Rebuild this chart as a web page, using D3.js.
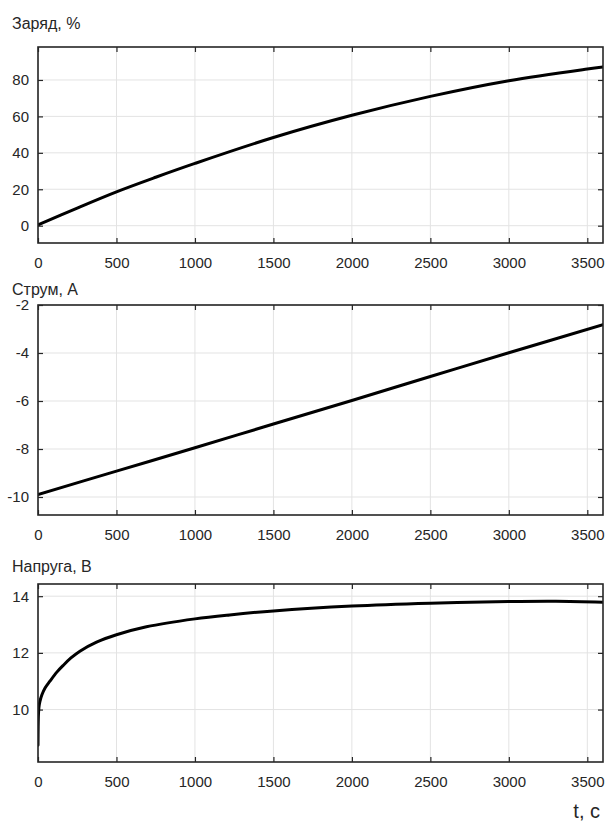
<!DOCTYPE html>
<html>
<head>
<meta charset="utf-8">
<script src="https://cdn.jsdelivr.net/npm/d3@7"></script>
<style>
  html, body { margin: 0; padding: 0; background: #fff; }
  text { font-family: "Liberation Sans", Arial, Helvetica, sans-serif; fill: #262626; }
</style>
</head>
<body>
<svg id="chart" width="607" height="825"></svg>
<script>
// ---- data ----
const xTicks = [0, 500, 1000, 1500, 2000, 2500, 3000, 3500];

const chargeTime = [0, 250, 500, 750, 1000, 1500, 2000, 2500, 3000, 3500, 3600];
const chargeValues = [0.4, 9.7, 18.6, 26.6, 34.2, 48.4, 60.6, 71.0, 79.6, 86.0, 87.1];
const chargeTicks = [0, 20, 40, 60, 80];

const currentTime = [0, 500, 1000, 1500, 2000, 2500, 3000, 3600];
const currentValues = [-9.9, -8.92, -7.95, -6.96, -5.98, -4.98, -3.99, -2.82];
const currentTicks = [-10, -8, -6, -4, -2];

const voltageTime = [0, 1, 3, 6, 12, 25, 45, 76, 120, 161, 210, 267, 373, 500, 691, 1000, 1221, 1500, 2000, 2500, 3000, 3300, 3600];
const voltageValues = [8.74, 9.4, 9.85, 10.08, 10.28, 10.52, 10.76, 11.0, 11.32, 11.56, 11.82, 12.06, 12.38, 12.64, 12.92, 13.2, 13.34, 13.48, 13.65, 13.75, 13.81, 13.82, 13.79];
const voltageTicks = [10, 12, 14];

const titles = ["Заряд, %", "Струм, А", "Напруга, В"];
const xLabel = "t, c";

// ---- layout ----
const svg = d3.select("#chart");
const left = 38, right = 603;
const panels = [
  { title: titles[0], t: chargeTime, v: chargeValues, ticks: chargeTicks, top: 47, bottom: 243, domain: [-9.5, 98.1], titleY: 29 },
  { title: titles[1], t: currentTime, v: currentValues, ticks: currentTicks, top: 305, bottom: 515, domain: [-10.75, -2], titleY: 295 },
  { title: titles[2], t: voltageTime, v: voltageValues, ticks: voltageTicks, top: 584, bottom: 762, domain: [8.15, 14.43], titleY: 572 }
];

const x = d3.scaleLinear().domain([0, 3600]).range([left, right]);
const frameColor = "#262626";
const gridColor = "#e3e3e3";
const fmt = d => String(d); // plain hyphen minus, as in the reference

panels.forEach(p => {
  const y = d3.scaleLinear().domain(p.domain).range([p.bottom, p.top]);
  const g = svg.append("g");

  // grid
  g.append("g").selectAll("line").data(xTicks).join("line")
    .attr("x1", d => x(d)).attr("x2", d => x(d))
    .attr("y1", p.top).attr("y2", p.bottom)
    .attr("stroke", gridColor).attr("stroke-width", 1);
  g.append("g").selectAll("line").data(p.ticks).join("line")
    .attr("x1", left).attr("x2", right)
    .attr("y1", d => y(d)).attr("y2", d => y(d))
    .attr("stroke", gridColor).attr("stroke-width", 1);

  // axes (ticks inside)
  const xb = d3.axisBottom(x).tickValues(xTicks).tickSizeInner(-5).tickSizeOuter(0).tickPadding(14).tickFormat(fmt);
  const xt = d3.axisTop(x).tickValues(xTicks).tickSizeInner(-5).tickSizeOuter(0).tickFormat("");
  const yl = d3.axisLeft(y).tickValues(p.ticks).tickSizeInner(-5).tickSizeOuter(0).tickPadding(9).tickFormat(fmt);
  const yr = d3.axisRight(y).tickValues(p.ticks).tickSizeInner(-5).tickSizeOuter(0).tickFormat("");

  const styleAxis = sel => {
    sel.select(".domain").remove();
    sel.selectAll(".tick line").attr("stroke", frameColor).attr("stroke-width", 1.2);
    sel.selectAll(".tick text").attr("font-size", 15).attr("fill", "#262626")
      .style("font-family", "'Liberation Sans', Arial, sans-serif");
  };
  g.append("g").attr("transform", `translate(0,${p.bottom})`).call(xb).call(styleAxis);
  g.append("g").attr("transform", `translate(0,${p.top})`).call(xt).call(styleAxis);
  g.append("g").attr("transform", `translate(${left},0)`).call(yl).call(styleAxis);
  g.append("g").attr("transform", `translate(${right},0)`).call(yr).call(styleAxis);

  // line
  const line = d3.line().x((d, i) => x(p.t[i])).y(d => y(d)).curve(d3.curveCatmullRom.alpha(0.5));
  const clipId = "clip" + p.top;
  svg.append("clipPath").attr("id", clipId).append("rect")
    .attr("x", left).attr("y", p.top).attr("width", right - left).attr("height", p.bottom - p.top);
  g.append("path").datum(p.v).attr("d", line)
    .attr("fill", "none").attr("stroke", "#000").attr("stroke-width", 3)
    .attr("stroke-linejoin", "round").attr("stroke-linecap", "round")
    .attr("clip-path", `url(#${clipId})`);

  // frame
  g.append("rect").attr("x", left).attr("y", p.top)
    .attr("width", right - left).attr("height", p.bottom - p.top)
    .attr("fill", "none").attr("stroke", frameColor).attr("stroke-width", 1.6);

  // title
  g.append("text").attr("x", 12).attr("y", p.titleY).attr("font-size", 16).text(p.title);
});

svg.append("text").attr("x", 600).attr("y", 818).attr("text-anchor", "end")
  .attr("font-size", 20).text(xLabel);
</script>
</body>
</html>
